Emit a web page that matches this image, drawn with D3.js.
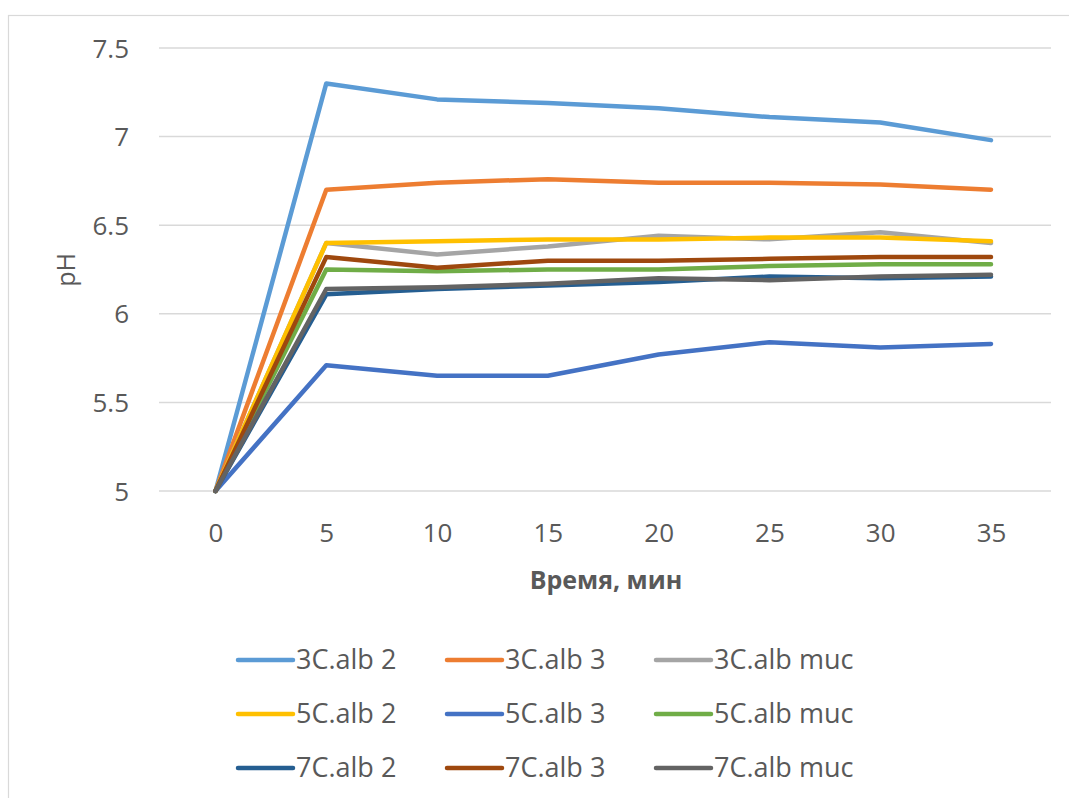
<!DOCTYPE html>
<html>
<head>
<meta charset="utf-8">
<script src="https://cdn.jsdelivr.net/npm/d3@7"></script>
<style>
  html, body { margin: 0; padding: 0; background: #fff; }
  svg { display: block; }
  text { font-family: "Open Sans", Lato, sans-serif; fill: #595959; }
</style>
</head>
<body>
<svg id="chart" width="1069" height="798"></svg>
<script>
// Sampling times, minutes
const times = [0, 5, 10, 15, 20, 25, 30, 35];

// pH readings per culture
const c3alb2   = [5, 7.30, 7.21, 7.19, 7.16, 7.11, 7.08, 6.98];
const c3alb3   = [5, 6.70, 6.74, 6.76, 6.74, 6.74, 6.73, 6.70];
const c3albMuc = [5, 6.40, 6.335, 6.38, 6.44, 6.42, 6.46, 6.40];
const c5alb2   = [5, 6.40, 6.41, 6.42, 6.42, 6.43, 6.43, 6.41];
const c5alb3   = [5, 5.71, 5.65, 5.65, 5.77, 5.84, 5.81, 5.83];
const c5albMuc = [5, 6.25, 6.24, 6.25, 6.25, 6.27, 6.28, 6.28];
const c7alb2   = [5, 6.11, 6.14, 6.16, 6.18, 6.21, 6.20, 6.21];
const c7alb3   = [5, 6.32, 6.26, 6.30, 6.30, 6.31, 6.32, 6.32];
const c7albMuc = [5, 6.14, 6.15, 6.17, 6.20, 6.19, 6.21, 6.22];

const seriesNames = ["3C.alb 2", "3C.alb 3", "3C.alb muc",
                     "5C.alb 2", "5C.alb 3", "5C.alb muc",
                     "7C.alb 2", "7C.alb 3", "7C.alb muc"];
const seriesValues = [c3alb2, c3alb3, c3albMuc, c5alb2, c5alb3, c5albMuc, c7alb2, c7alb3, c7albMuc];
const seriesColors = ["#5B9BD5", "#ED7D31", "#A5A5A5",
                      "#FFC000", "#4472C4", "#70AD47",
                      "#255E91", "#9E480E", "#636363"];

const yTicks = [5, 5.5, 6, 6.5, 7, 7.5];
const xTicks = [0, 5, 10, 15, 20, 25, 30, 35];

const svg = d3.select("#chart");

// Chart frame
svg.append("rect")
  .attr("x", 8.5).attr("y", 15.5)
  .attr("width", 1100).attr("height", 820)
  .attr("fill", "#fff")
  .attr("stroke", "#D9D9D9").attr("stroke-width", 1.2);

const x = d3.scaleLinear().domain([0, 35]).range([215.5, 991]);
const y = d3.scaleLinear().domain([5, 7.5]).range([491, 48]);

// Horizontal gridlines
svg.append("g")
  .selectAll("line")
  .data(yTicks)
  .join("line")
  .attr("x1", 159).attr("x2", 1051)
  .attr("y1", d => y(d)).attr("y2", d => y(d))
  .attr("stroke", "#D9D9D9").attr("stroke-width", 1.5);

// Y tick labels
const yAxis = d3.axisLeft(y).tickValues(yTicks).tickSize(0).tickPadding(0)
  .tickFormat(d => String(d));
svg.append("g")
  .attr("transform", "translate(129,0)")
  .call(yAxis)
  .call(g => g.select(".domain").remove())
  .selectAll("text")
  .attr("font-size", 26)
  .attr("font-family", "'Open Sans', sans-serif")
  .attr("fill", "#595959")
  .attr("dy", "0.35em");

// X tick labels
const xAxis = d3.axisBottom(x).tickValues(xTicks).tickSize(0).tickPadding(0);
svg.append("g")
  .attr("transform", "translate(0,533)")
  .call(xAxis)
  .call(g => g.select(".domain").remove())
  .selectAll("text")
  .attr("font-size", 26)
  .attr("font-family", "'Open Sans', sans-serif")
  .attr("fill", "#595959")
  .attr("dy", "0.35em");

// Axis titles
svg.append("text")
  .attr("x", 606).attr("y", 580)
  .attr("text-anchor", "middle").attr("dy", "0.35em")
  .attr("font-size", 25).attr("font-weight", "bold")
  .text("Время, мин");

svg.append("text")
  .attr("transform", "translate(66,270) rotate(-90)")
  .attr("text-anchor", "middle").attr("dy", "0.35em")
  .attr("font-size", 25)
  .text("pH");

// Series lines
const line = d3.line()
  .x((d, i) => x(times[i]))
  .y(d => y(d));

svg.append("g")
  .selectAll("path")
  .data(seriesValues)
  .join("path")
  .attr("d", d => line(d))
  .attr("fill", "none")
  .attr("stroke", (d, i) => seriesColors[i])
  .attr("stroke-width", 4.5)
  .attr("stroke-linecap", "round")
  .attr("stroke-linejoin", "round");

// Legend, three columns by three rows
const legendCols = [238, 447, 656];
const legendRows = [660, 714, 768];
const legend = svg.append("g")
  .selectAll("g")
  .data(seriesNames)
  .join("g")
  .attr("transform", (d, i) => `translate(${legendCols[i % 3]},${legendRows[Math.floor(i / 3)]})`);

legend.append("line")
  .attr("x1", 0).attr("x2", 55)
  .attr("y1", 0).attr("y2", 0)
  .attr("stroke", (d, i) => seriesColors[i])
  .attr("stroke-width", 4.5)
  .attr("stroke-linecap", "round");

legend.append("text")
  .attr("x", 58).attr("y", 0).attr("dy", "0.35em")
  .attr("font-size", 27)
  .text(d => d);
</script>
</body>
</html>
